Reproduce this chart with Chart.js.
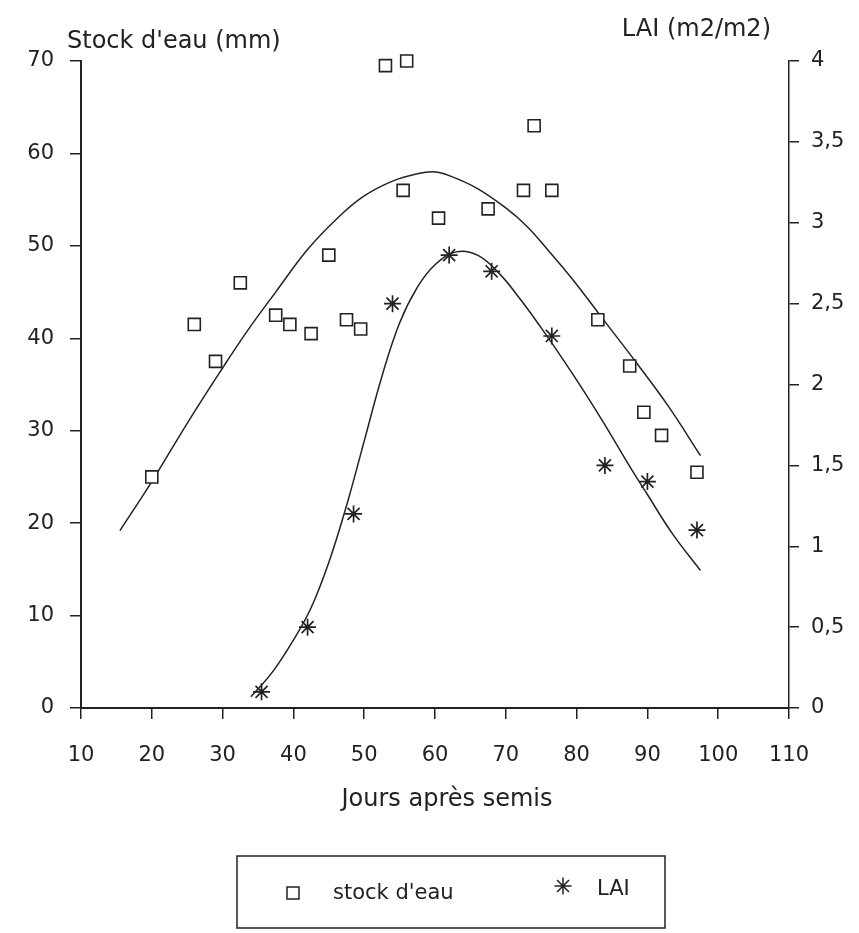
<!DOCTYPE html>
<html>
<head>
<meta charset="utf-8">
<script src="https://cdn.jsdelivr.net/npm/chart.js@4.4.1/dist/chart.umd.min.js"></script>
<style>
  html, body { margin: 0; padding: 0; background: #fff; }
</style>
</head>
<body>
<canvas id="chart" width="859" height="933"></canvas>
<script>
// Stock d'eau / LAI vs jours apres semis

// measured points
const stockDays = [20, 26, 29, 32.5, 37.5, 39.5, 42.5, 45, 47.5, 49.5, 53, 55.5, 56, 60.5, 67.5, 72.5, 74, 76.5, 83, 87.5, 89.5, 92, 97];
const stockMm = [25, 41.5, 37.5, 46, 42.5, 41.5, 40.5, 49, 42, 41, 69.5, 56, 70, 53, 54, 56, 63, 56, 42, 37, 32, 29.5, 25.5];

const laiDays = [35.5, 42, 48.5, 54, 62, 68, 76.5, 84, 90, 97];
const laiValues = [0.1, 0.5, 1.2, 2.5, 2.8, 2.7, 2.3, 1.5, 1.4, 1.1];

// fitted curves
const stockFitDays = [15.5, 20, 25, 29.5, 33.5, 37.5, 42, 46.5, 50, 54, 57.5, 60, 62, 66, 70, 73, 76, 79.5, 84, 88.5, 93, 97.5];
const stockFitMm = [19.2, 24.5, 30.8, 36.2, 40.8, 45, 49.6, 53.2, 55.4, 57, 57.8, 58, 57.6, 56.2, 54.1, 52.1, 49.5, 46.3, 41.8, 37.3, 32.6, 27.3];

const laiFitDays = [34, 37, 40, 42.5, 45, 47.5, 50, 52.5, 55, 57.5, 60, 63, 66, 69, 72, 75, 78, 81, 84, 87, 90, 93.5, 97.5];
const laiFitValues = [0.07, 0.22, 0.42, 0.62, 0.9, 1.25, 1.65, 2.05, 2.38, 2.6, 2.74, 2.82, 2.8, 2.69, 2.53, 2.35, 2.16, 1.96, 1.75, 1.53, 1.32, 1.08, 0.85];

// axes
const xMin = 10, xMax = 110, xStep = 10;
const stockMin = 0, stockMax = 70, stockStep = 10;
const laiMin = 0, laiMax = 4, laiStep = 0.5;

const ink = '#222';
const font = "'DejaVu Sans', sans-serif";

const toPoints = (xs, ys) => xs.map((x, i) => ({ x: x, y: ys[i] }));

const labelsPlugin = {
  id: 'labels',
  afterDraw(chart) {
    const ctx = chart.ctx;
    const a = chart.chartArea;
    ctx.save();
    ctx.fillStyle = ink;
    ctx.font = '24px ' + font;
    ctx.textBaseline = 'middle';
    ctx.textAlign = 'left';
    ctx.fillText("Stock d'eau (mm)", a.left - 14, a.top - 19);
    ctx.textAlign = 'right';
    ctx.fillText('LAI (m2/m2)', a.right - 18, a.top - 31);
    ctx.textAlign = 'center';
    ctx.fillText('Jours après semis', (a.left + a.right) / 2 + 12, 800);

    // legend box
    ctx.strokeStyle = ink;
    ctx.lineWidth = 1.5;
    ctx.strokeRect(237, 856, 428, 72);
    ctx.fillStyle = '#fff';
    Chart.helpers.drawPoint(ctx, { pointStyle: 'rect', radius: 8.5, rotation: 0, borderWidth: 1.5 }, 293, 893);
    Chart.helpers.drawPoint(ctx, { pointStyle: 'star', radius: 8.5, rotation: 0, borderWidth: 1.5 }, 563, 886);
    ctx.fillStyle = ink;
    ctx.font = '21px ' + font;
    ctx.textAlign = 'left';
    ctx.fillText("stock d'eau", 333, 894);
    ctx.fillText('LAI', 597, 890);
    ctx.restore();
  }
};

new Chart(document.getElementById('chart'), {
  type: 'scatter',
  data: {
    datasets: [
      {
        label: "stock d'eau",
        data: toPoints(stockDays, stockMm),
        yAxisID: 'y',
        pointStyle: 'rect',
        pointRadius: 8.5,
        borderColor: ink,
        backgroundColor: '#fff',
        borderWidth: 1.6,
        clip: false
      },
      {
        label: 'LAI',
        data: toPoints(laiDays, laiValues),
        yAxisID: 'y2',
        pointStyle: 'star',
        pointRadius: 8.5,
        borderColor: ink,
        borderWidth: 1.7,
        clip: false
      },
      {
        label: 'fit stock',
        data: toPoints(stockFitDays, stockFitMm),
        yAxisID: 'y',
        showLine: true,
        pointRadius: 0,
        borderColor: ink,
        borderWidth: 1.5,
        tension: 0.4,
        fill: false
      },
      {
        label: 'fit LAI',
        data: toPoints(laiFitDays, laiFitValues),
        yAxisID: 'y2',
        showLine: true,
        pointRadius: 0,
        borderColor: ink,
        borderWidth: 1.5,
        tension: 0.4,
        fill: false
      }
    ]
  },
  options: {
    responsive: false,
    animation: false,
    devicePixelRatio: 1,
    layout: { padding: { top: 61, bottom: 165, left: 0, right: 0 } },
    plugins: {
      legend: { display: false },
      tooltip: { enabled: false }
    },
    scales: {
      x: {
        type: 'linear',
        min: xMin, max: xMax,
        afterFit: s => { s.height = 60; },
        ticks: { stepSize: xStep, color: ink, font: { family: font, size: 21 }, padding: 24, maxRotation: 0 },
        grid: { drawOnChartArea: false, tickLength: 11, color: ink, lineWidth: 1.5 },
        border: { color: ink, width: 2 }
      },
      y: {
        position: 'left',
        min: stockMin, max: stockMax,
        afterFit: s => { s.width = 81; },
        ticks: { stepSize: stockStep, color: ink, font: { family: font, size: 21 }, padding: 16 },
        grid: { drawOnChartArea: false, tickLength: 11, color: ink, lineWidth: 1.5 },
        border: { color: ink, width: 2 }
      },
      y2: {
        position: 'right',
        min: laiMin, max: laiMax,
        afterFit: s => { s.width = 70; },
        ticks: {
          stepSize: laiStep, color: ink, font: { family: font, size: 21 }, padding: 12,
          callback: v => String(v).replace('.', ',')
        },
        grid: { drawOnChartArea: false, tickLength: 10, color: ink, lineWidth: 1.5 },
        border: { color: ink, width: 1.5 }
      }
    }
  },
  plugins: [labelsPlugin]
});
</script>
</body>
</html>
